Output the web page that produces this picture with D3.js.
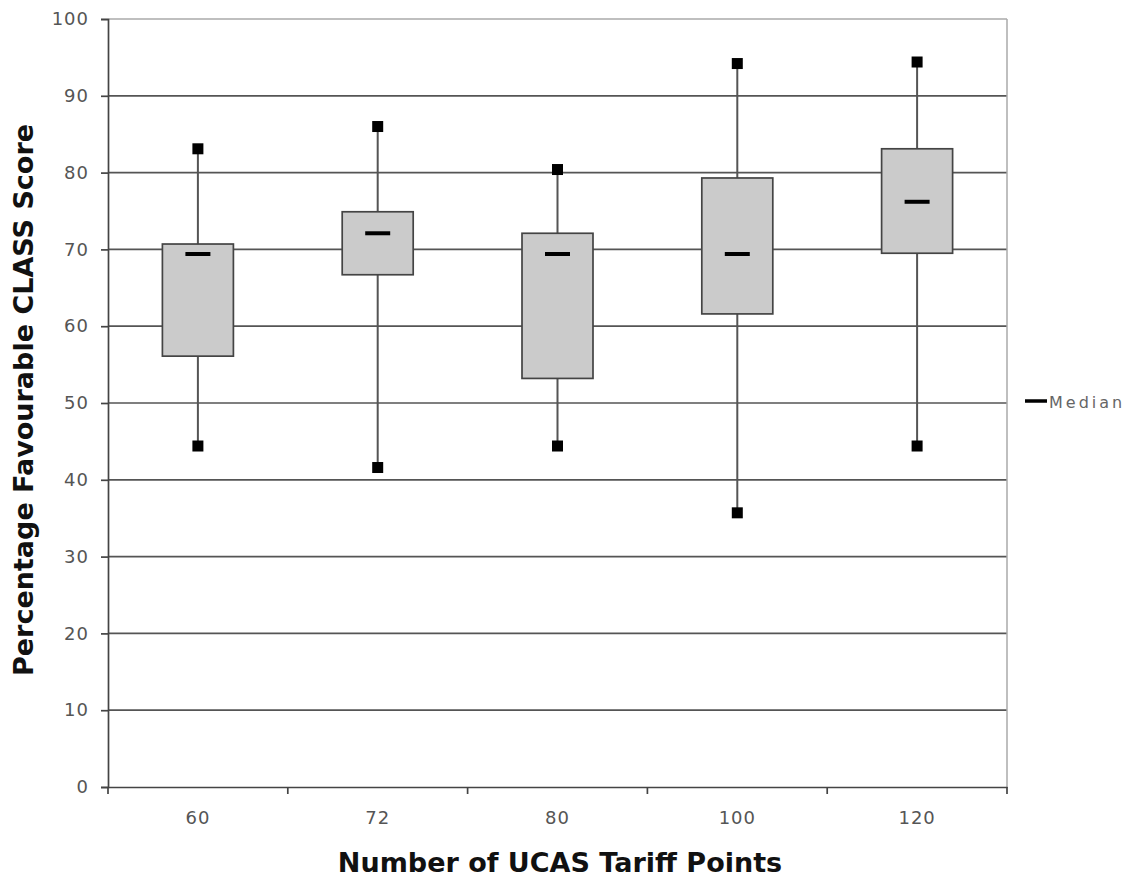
<!DOCTYPE html>
<html>
<head>
<meta charset="utf-8">
<script src="https://cdn.jsdelivr.net/npm/d3@7/dist/d3.min.js"></script>
<style>
  html, body { margin: 0; padding: 0; background: #fff; }
  svg { display: block; }
</style>
</head>
<body>
<svg id="chart" width="1139" height="877"></svg>
<script>
const categories = ["60", "72", "80", "100", "120"];
const maxValues    = [83.1, 86.0, 80.4, 94.2, 94.4];
const q3Values     = [70.7, 74.9, 72.1, 79.3, 83.1];
const medianValues = [69.4, 72.1, 69.4, 69.4, 76.2];
const q1Values     = [56.1, 66.7, 53.2, 61.6, 69.5];
const minValues    = [44.4, 41.6, 44.4, 35.7, 44.4];
const yTicks = [0, 10, 20, 30, 40, 50, 60, 70, 80, 90, 100];

const data = categories.map((c, i) => ({
  cat: c, max: maxValues[i], q3: q3Values[i], med: medianValues[i], q1: q1Values[i], min: minValues[i]
}));

const svg = d3.select("#chart");
const pLeft = 108, pRight = 1007, pTop = 19, pBottom = 787;
const x = d3.scaleBand().domain(categories).range([pLeft, pRight]).padding(0);
const y = d3.scaleLinear().domain([0, 100]).range([pBottom, pTop]);
const font = "'DejaVu Sans', Verdana, sans-serif";

// gridlines
svg.append("g").selectAll("line").data(yTicks.filter(t => t > 0)).join("line")
  .attr("x1", pLeft).attr("x2", pRight)
  .attr("y1", d => y(d)).attr("y2", d => y(d))
  .attr("stroke", d => d === 100 ? "#aaa" : "#555").attr("stroke-width", 1.7);

// right border
svg.append("line").attr("x1", pRight).attr("x2", pRight).attr("y1", pTop).attr("y2", pBottom)
  .attr("stroke", "#aaa").attr("stroke-width", 1.5);

// y axis
const yAxis = svg.append("g").attr("transform", `translate(${pLeft},0)`)
  .call(d3.axisLeft(y).tickValues(yTicks).tickSize(7).tickPadding(12));
yAxis.select(".domain").attr("stroke", "#444").attr("stroke-width", 1.7);
yAxis.selectAll(".tick line").attr("stroke", "#444").attr("stroke-width", 1.7);
yAxis.selectAll(".tick text").attr("font-family", font).attr("font-size", 18)
  .attr("letter-spacing", 1).attr("fill", "#555");

// x axis
const xAxis = svg.append("g").attr("transform", `translate(0,${pBottom})`)
  .call(d3.axisBottom(x).tickSize(0).tickPadding(24));
xAxis.select(".domain").attr("stroke", "#444").attr("stroke-width", 1.7);
xAxis.selectAll(".tick text").attr("font-family", font).attr("font-size", 18)
  .attr("letter-spacing", 1).attr("fill", "#555");
const bounds = categories.map(c => x(c)).concat([x(categories[categories.length-1]) + x.bandwidth()]);
xAxis.append("g").selectAll("line").data(bounds).join("line")
  .attr("x1", d => d).attr("x2", d => d).attr("y1", 0).attr("y2", 7)
  .attr("stroke", "#444").attr("stroke-width", 1.7);

// boxes
const bw = 71, mw = 25, ms = 11;
const g = svg.append("g");
const cx = d => x(d.cat) + x.bandwidth() / 2;
g.selectAll(".whisker").data(data).join("line")
  .attr("x1", cx).attr("x2", cx)
  .attr("y1", d => y(d.max)).attr("y2", d => y(d.min))
  .attr("stroke", "#555").attr("stroke-width", 2);
g.selectAll(".box").data(data).join("rect")
  .attr("x", d => cx(d) - bw / 2).attr("width", bw)
  .attr("y", d => y(d.q3)).attr("height", d => y(d.q1) - y(d.q3))
  .attr("fill", "#cbcbcb").attr("stroke", "#444").attr("stroke-width", 1.7);
g.selectAll(".median").data(data).join("line")
  .attr("x1", d => cx(d) - mw / 2).attr("x2", d => cx(d) + mw / 2)
  .attr("y1", d => y(d.med)).attr("y2", d => y(d.med))
  .attr("stroke", "#000").attr("stroke-width", 4);
g.selectAll(".maxm").data(data).join("rect")
  .attr("x", d => cx(d) - ms / 2).attr("y", d => y(d.max) - ms / 2)
  .attr("width", ms).attr("height", ms).attr("fill", "#000");
g.selectAll(".minm").data(data).join("rect")
  .attr("x", d => cx(d) - ms / 2).attr("y", d => y(d.min) - ms / 2)
  .attr("width", ms).attr("height", ms).attr("fill", "#000");

// legend
svg.append("line").attr("x1", 1025).attr("x2", 1047).attr("y1", 401).attr("y2", 401)
  .attr("stroke", "#000").attr("stroke-width", 3.5);
svg.append("text").attr("x", 1049).attr("y", 408).text("Median")
  .attr("font-family", font).attr("font-size", 16).attr("letter-spacing", 3).attr("fill", "#666");

// axis titles
svg.append("text").attr("x", 560).attr("y", 872).attr("text-anchor", "middle")
  .attr("font-family", font).attr("font-size", 27).attr("font-weight", "bold").attr("fill", "#111")
  .text("Number of UCAS Tariff Points");
svg.append("text").attr("transform", `translate(33,400) rotate(-90)`)
  .attr("text-anchor", "middle")
  .attr("font-family", font).attr("font-size", 27).attr("font-weight", "bold").attr("fill", "#111")
  .text("Percentage Favourable CLASS Score");
</script>
</body>
</html>
